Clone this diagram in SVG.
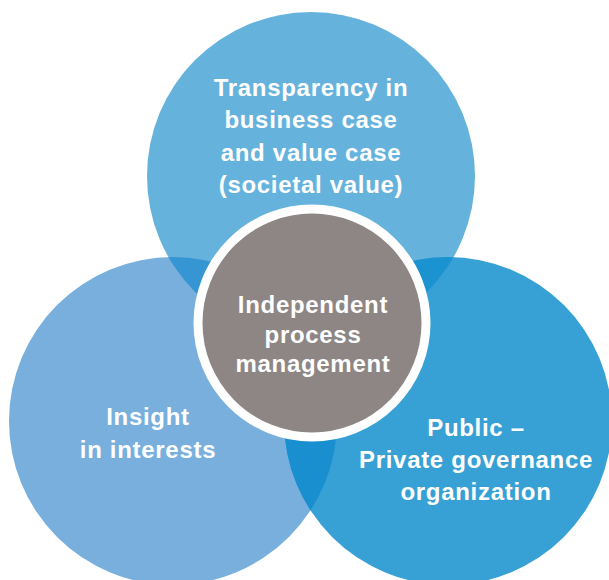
<svg xmlns="http://www.w3.org/2000/svg" width="609" height="580" viewBox="0 0 609 580">
  <style>
    .lbl { font-family: "Liberation Sans", Arial, sans-serif; font-weight: bold; font-size: 24px; letter-spacing: 0.7px; fill: #ffffff; text-anchor: middle; }
  </style>
  <defs>
    <clipPath id="clipTop"><circle cx="311" cy="176" r="164"/></clipPath>
    <clipPath id="clipLeft"><circle cx="173" cy="421" r="164"/></clipPath>
  </defs>
  <rect width="609" height="580" fill="#ffffff"/>

  <g id="node-transparency">
    <circle cx="311" cy="176" r="164" fill="#65b2dc"/>
  </g>
  <g id="node-insight">
    <circle cx="173" cy="421" r="164" fill="#78afdd"/>
  </g>
  <g id="node-governance">
    <circle cx="448" cy="421" r="164" fill="#37a1d6"/>
  </g>

  <!-- lens-shaped overlaps between the outer circles -->
  <g id="overlaps">
    <circle cx="173" cy="421" r="164" fill="#3696d4" clip-path="url(#clipTop)"/>
    <circle cx="448" cy="421" r="164" fill="#1b93d1" clip-path="url(#clipTop)"/>
    <circle cx="448" cy="421" r="164" fill="#1a8fcf" clip-path="url(#clipLeft)"/>
  </g>

  <g id="node-process">
    <circle cx="312" cy="323" r="114" fill="#8d8685" stroke="#ffffff" stroke-width="9"/>
  </g>

  <g id="labels">
    <text class="lbl" x="311" y="96">Transparency in</text>
    <text class="lbl" x="311" y="128">business case</text>
    <text class="lbl" x="311" y="161">and value case</text>
    <text class="lbl" x="311" y="193">(societal value)</text>

    <text class="lbl" x="313" y="313">Independent</text>
    <text class="lbl" x="313" y="343">process</text>
    <text class="lbl" x="313" y="372">management</text>

    <text class="lbl" x="148" y="425">Insight</text>
    <text class="lbl" x="148" y="458">in interests</text>

    <text class="lbl" x="476" y="436">Public –</text>
    <text class="lbl" x="476" y="468">Private governance</text>
    <text class="lbl" x="476" y="500">organization</text>
  </g>
</svg>
